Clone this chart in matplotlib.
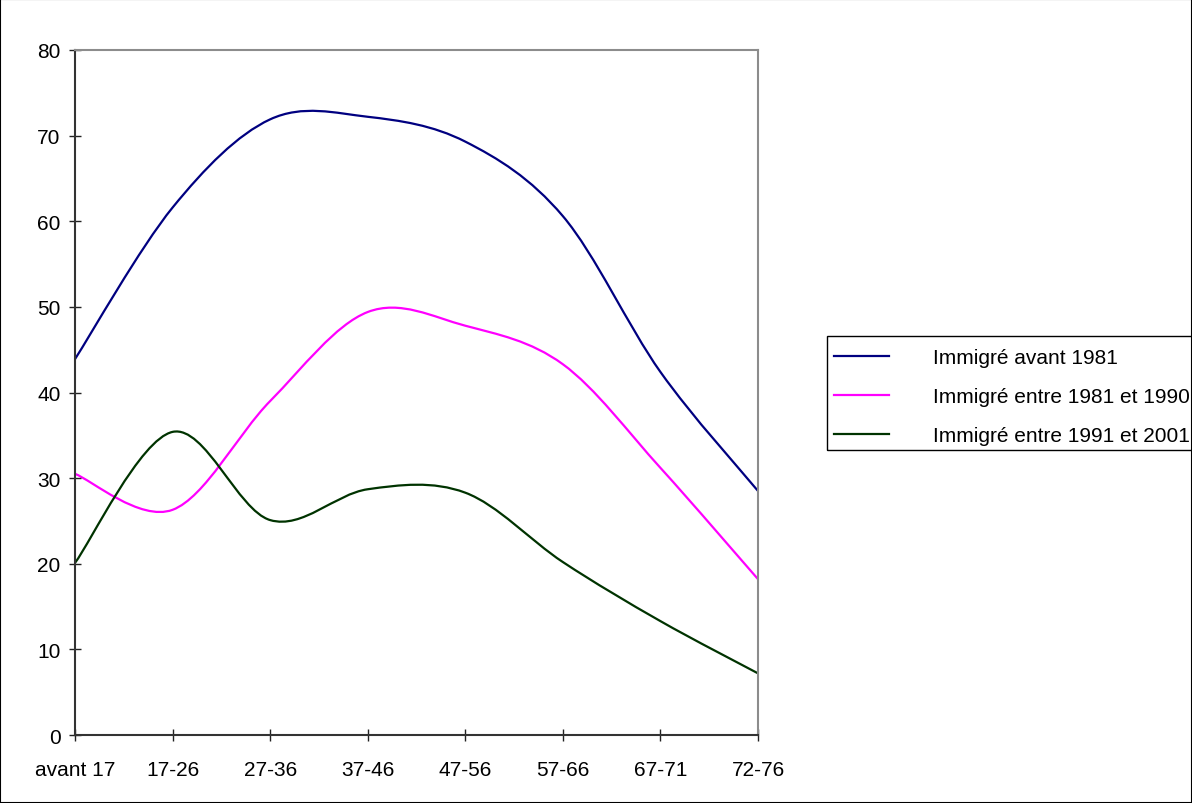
import numpy as np
import matplotlib.pyplot as plt
from matplotlib.path import Path
from matplotlib.patches import PathPatch, Rectangle
from matplotlib.lines import Line2D

plt.rcParams['font.family'] = ['Liberation Sans', 'DejaVu Sans']

categories = ['avant 17', '17-26', '27-36', '37-46', '47-56', '57-66', '67-71', '72-76']
avant_1981 = [43.9, 61.6, 71.9, 72.2, 69.3, 60.6, 42.4, 28.5]
entre_1981_1990 = [30.5, 26.3, 39.0, 49.4, 47.8, 43.3, 31.2, 18.2]
entre_1991_2001 = [20.1, 35.4, 25.1, 28.7, 28.3, 20.2, 13.3, 7.2]
labels = ['Immigré avant 1981', 'Immigré entre 1981 et 1990', 'Immigré entre 1991 et 2001']
colors = ['#000080', '#FF00FF', '#003300']

W, H = 1192, 804
fs = 15


def smooth_path(x, y):
    # excel-like smoothed line: cubic bezier through every point
    pts = np.column_stack([x, y]).astype(float)
    ext = np.vstack([pts[0], pts, pts[-1]])
    verts = [pts[0]]
    codes = [Path.MOVETO]
    for i in range(len(pts) - 1):
        p0, p1, p2, p3 = ext[i], ext[i + 1], ext[i + 2], ext[i + 3]
        verts += [p1 + (p2 - p0) / 6, p2 - (p3 - p1) / 6, p2]
        codes += [Path.CURVE4] * 3
    return Path(verts, codes)


fig = plt.figure(figsize=(W / 100, H / 100), dpi=100)
ax = fig.add_axes([75 / W, 1 - 736 / H, (758 - 75) / W, (736 - 51) / H])

x = np.arange(len(categories))
for vals, col in zip([avant_1981, entre_1981_1990, entre_1991_2001], colors):
    ax.add_patch(PathPatch(smooth_path(x, vals), facecolor='none', edgecolor=col,
                           lw=1.6, transform=ax.transData))

ax.set_xlim(0, len(categories) - 1)
ax.set_ylim(0, 80)
ax.set_xticks(x)
ax.set_xticklabels(categories)
ax.set_yticks(np.arange(0, 81, 10))
ax.tick_params(direction='inout', length=8.6, width=1, color='#222222',
               labelsize=fs, colors='black')
ax.tick_params(axis='x', pad=14)
ax.tick_params(axis='y', pad=6)

for s in ['left', 'bottom']:
    ax.spines[s].set_color('#333333')
    ax.spines[s].set_linewidth(1.5)
for s in ['top', 'right']:
    ax.spines[s].set_color('#8c8c8c')
    ax.spines[s].set_linewidth(1.5)

# legend box runs off the right edge like the original
fig.patches.append(Rectangle((827 / W, 1 - 451 / H), 400 / W, (451 - 337) / H,
                             transform=fig.transFigure, fill=False,
                             edgecolor='black', lw=1))
handles = [Line2D([], [], color=c, lw=1.6) for c in colors]
leg = ax.legend(handles, labels, loc='upper left',
                bbox_to_anchor=(834 / W, 1 - 349 / H), bbox_transform=fig.transFigure,
                fontsize=fs, frameon=False, handlelength=2.65, handletextpad=2.1,
                borderpad=0, borderaxespad=0, labelspacing=0.96)

fig.patches.append(Rectangle((0, 0), 1, 1, transform=fig.transFigure, fill=False,
                             edgecolor='black', lw=1.5))

plt.savefig('out.png', dpi=100)
